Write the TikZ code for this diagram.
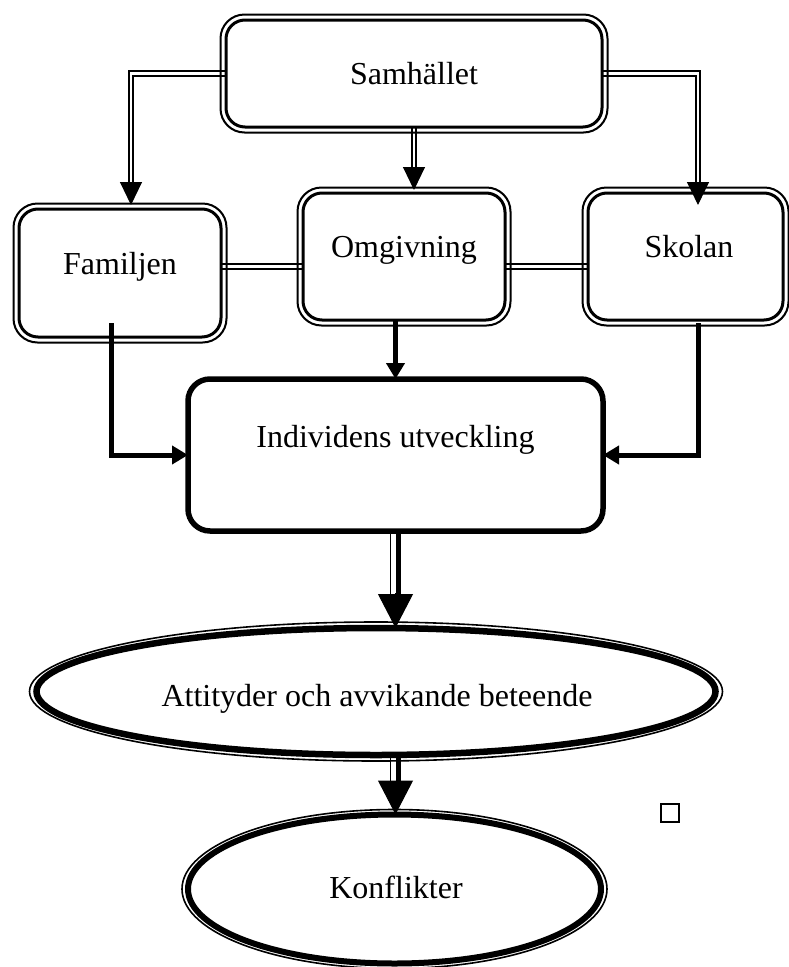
\documentclass[tikz,border=0pt]{standalone}
\usepackage{fontspec}
\setmainfont{Liberation Serif}
\usetikzlibrary{arrows.meta,calc,shapes.geometric}
\pgfdeclarelayer{wires}
\pgfsetlayers{wires,main}

\begin{document}
\begin{tikzpicture}[x=1pt,y=-1pt,
  every node/.style={inner sep=0pt, outer sep=0pt},
  txt/.style={font=\fontsize{32}{38}\selectfont},
  boxin/.style={draw, line width=3pt, rounded corners=19pt},
  boxout/.style={draw, line width=2pt, rounded corners=24pt},
  bigbox/.style={draw, line width=5.5pt, rounded corners=22pt},
  ovalin/.style={draw, ellipse, line width=#1},
  ovalout/.style={draw, line width=1.6pt},
  dblwire/.style={draw, line width=2pt, double=white, double distance=2.6pt},
  wire/.style={line width=5pt},
  headA/.style={line width=1pt, -{Triangle[length=23pt, width=22pt]}},
  headB/.style={-{Triangle[length=16pt, width=18pt]}},
  headC/.style={line width=1pt, -{Triangle[length=34pt, width=35pt]}},
]
\useasboundingbox (0,0) rectangle (789,967);

% ---------- boxes ----------
\node[boxin, minimum width=376, minimum height=107,
      label={[txt, name=samT]center:Samhället}] (sam) at (414,73.5) {};
\node[boxin, minimum width=202, minimum height=128,
      label={[txt, name=famT, yshift=6.5pt]center:Familjen}] (fam) at (120,273) {};
\node[boxin, minimum width=202, minimum height=127,
      label={[txt, name=omgT, yshift=6pt]center:Omgivning}] (omg) at (404,256.5) {};
\node[boxin, minimum width=195, minimum height=127,
      label={[txt, name=skoT, xshift=3.5pt, yshift=9.5pt]center:Skolan}] (sko) at (685.5,256.5) {};
\foreach \n in {sam,fam,omg,sko}
  \draw[boxout] ($(\n.north west)+(-5.5,-5.5)$) rectangle ($(\n.south east)+(5.5,5.5)$);

\node[bigbox, minimum width=415, minimum height=152,
      label={[txt, name=indT, yshift=15.5pt]center:Individens utveckling}] (ind) at (395.5,455) {};

% ---------- ovals ----------
\node[ovalin=6.5pt, minimum width=679, minimum height=127,
      label={[txt, name=attT, xshift=1pt, yshift=-7pt]center:Attityder och avvikande beteende}] (att) at (376,691.5) {};
\draw[ovalout] (att.center) ellipse [x radius=346.5, y radius=69.5];

\node[ovalin=6pt, minimum width=413, minimum height=149,
      label={[txt, name=konT, xshift=1.5pt, yshift=2pt]center:Konflikter}] (kon) at (394.5,889) {};
\draw[ovalout] (kon.center) ellipse [x radius=212.5, y radius=79.5];

% small square mark
\node[draw, line width=2pt, minimum size=18] (sq) at (670,813) {};

% ---------- connectors ----------
\coordinate (a1) at (131,182);   \coordinate (a1e) at (131,186);  \coordinate (famIn) at (131,205);
\coordinate (a2) at (414,167);   \coordinate (a2e) at (414,171);  \coordinate (omgIn) at (414,190);
\coordinate (a3) at (698,183);   \coordinate (a3e) at (698,187);  \coordinate (skoIn) at (698,205);
\coordinate (hl) at (0,266.5);
\coordinate (b1) at (111,323);
\coordinate (b3) at (698,323);
\coordinate (c1) at (395.5,593); \coordinate (c1e) at (395.5,597);
\coordinate (c2) at (395.5,781); \coordinate (c2e) at (395.5,785);

\begin{pgfonlayer}{wires}
  \fill[white] (0,0) rectangle (789,967);
  % Samhället feeds the three surroundings
  \draw[dblwire] (sam.west) -| (a1e);
  \draw[dblwire] (sam.south) -- (a2e);
  \draw[dblwire] (sam.east) -| (a3e);
  \draw[headA] (a1) -- (famIn);
  \draw[headA] (a2) -- (omgIn);
  \draw[headA] (a3) -- (skoIn);
  % links between the surroundings
  \draw[dblwire] (fam.east |- hl) -- (omg.west |- hl);
  \draw[dblwire] (omg.east |- hl) -- (sko.west |- hl);
  % surroundings into the individual
  \draw[wire, headB] (b1) |- (ind.west);
  \draw[wire, headB] (omg.south -| ind.north) -- (ind.north);
  \draw[wire, headB] (b3) |- (ind.east);
  % individual -> attitudes -> conflicts
  \draw[line width=1.6pt] ([xshift=-5pt]ind.south) -- ([xshift=-5pt]c1e);
  \draw[line width=5pt] ([xshift=2.5pt]ind.south) -- ([xshift=2.5pt]c1e);
  \draw[headC] (c1) -- (ind.south |- att.north);
  \draw[line width=1.6pt] ([xshift=-5pt]ind.south |- att.south) -- ([xshift=-5pt]c2e);
  \draw[line width=5pt] ([xshift=2.5pt]ind.south |- att.south) -- ([xshift=2.5pt]c2e);
  \draw[headC] (c2) -- (ind.south |- kon.north);
\end{pgfonlayer}
\end{tikzpicture}
\end{document}
